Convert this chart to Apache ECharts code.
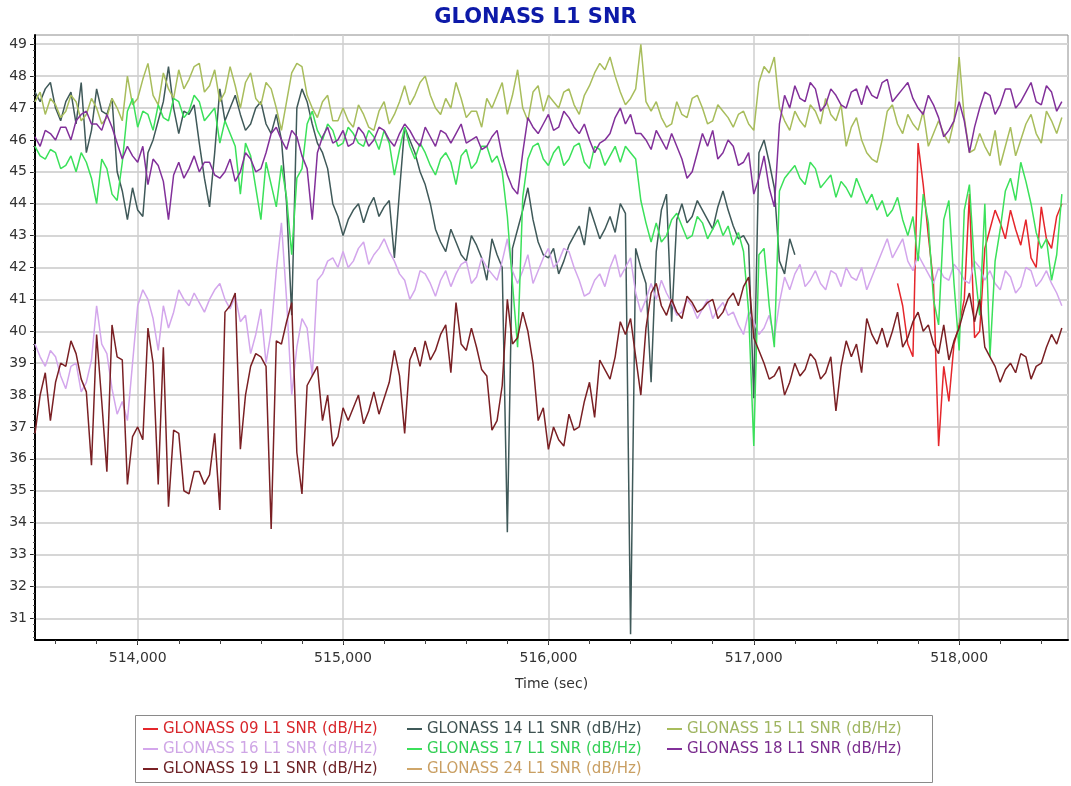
<!DOCTYPE html>
<html>
<head>
<meta charset="utf-8">
<title>GLONASS L1 SNR</title>
<script src="https://cdn.jsdelivr.net/npm/echarts@6/dist/echarts.min.js"></script>
<style>
  html, body { margin: 0; padding: 0; background: #fff; }
  #chart { width: 1071px; height: 786px; }
</style>
</head>
<body>
<div id="chart"></div>
<script>
// sample times (sec), every 25 s, one row per 500 s
const times = [
  513500, 513525, 513550, 513575, 513600, 513625, 513650, 513675, 513700, 513725, 513750, 513775, 513800, 513825, 513850, 513875, 513900, 513925, 513950, 513975,
  514000, 514025, 514050, 514075, 514100, 514125, 514150, 514175, 514200, 514225, 514250, 514275, 514300, 514325, 514350, 514375, 514400, 514425, 514450, 514475,
  514500, 514525, 514550, 514575, 514600, 514625, 514650, 514675, 514700, 514725, 514750, 514775, 514800, 514825, 514850, 514875, 514900, 514925, 514950, 514975,
  515000, 515025, 515050, 515075, 515100, 515125, 515150, 515175, 515200, 515225, 515250, 515275, 515300, 515325, 515350, 515375, 515400, 515425, 515450, 515475,
  515500, 515525, 515550, 515575, 515600, 515625, 515650, 515675, 515700, 515725, 515750, 515775, 515800, 515825, 515850, 515875, 515900, 515925, 515950, 515975,
  516000, 516025, 516050, 516075, 516100, 516125, 516150, 516175, 516200, 516225, 516250, 516275, 516300, 516325, 516350, 516375, 516400, 516425, 516450, 516475,
  516500, 516525, 516550, 516575, 516600, 516625, 516650, 516675, 516700, 516725, 516750, 516775, 516800, 516825, 516850, 516875, 516900, 516925, 516950, 516975,
  517000, 517025, 517050, 517075, 517100, 517125, 517150, 517175, 517200, 517225, 517250, 517275, 517300, 517325, 517350, 517375, 517400, 517425, 517450, 517475,
  517500, 517525, 517550, 517575, 517600, 517625, 517650, 517675, 517700, 517725, 517750, 517775, 517800, 517825, 517850, 517875, 517900, 517925, 517950, 517975,
  518000, 518025, 518050, 518075, 518100, 518125, 518150, 518175, 518200, 518225, 518250, 518275, 518300, 518325, 518350, 518375, 518400, 518425, 518450, 518475,
  518500
];

// GLONASS 09 only shows up near the end
const times09 = [
  517700, 517725, 517750, 517775, 517800, 517825, 517850, 517875, 517900, 517925, 517950, 517975,
  518000, 518025, 518050, 518075, 518100, 518125, 518150, 518175, 518200, 518225, 518250, 518275,
  518300, 518325, 518350, 518375, 518400, 518425, 518450, 518475, 518500
];
const snr09 = [
  41.5, 40.8, 39.6, 39.2, 45.9, 44.6, 43.0, 41.5, 36.4, 38.9, 37.8, 39.6,
  40.2, 41.0, 44.3, 39.8, 40.0, 42.6, 43.2, 43.8, 43.4, 42.9, 43.8, 43.2,
  42.7, 43.5, 42.3, 42.0, 43.9, 42.9, 42.6, 43.6, 44.0
];

// GLONASS 14 drops out around 517,200
const snr14 = [
  47.5, 47.2, 47.6, 47.8, 47.0, 46.6, 47.2, 47.5, 46.5, 47.8, 45.6, 46.3, 47.6, 46.9, 46.8, 47.3, 45.0, 44.4, 43.5, 44.5,
  43.8, 43.6, 45.6, 46.0, 46.6, 47.2, 48.3, 47.0, 46.2, 46.9, 46.8, 47.1, 45.9, 44.8, 43.9, 45.6, 47.6, 46.6, 47.0, 47.4,
  46.8, 46.3, 46.5, 47.0, 47.2, 46.5, 46.2, 46.8, 46.0, 44.0, 40.5, 47.0, 47.6, 47.2, 46.5, 45.9, 45.6, 45.1, 44.0, 43.6,
  43.0, 43.5, 43.8, 44.0, 43.4, 43.9, 44.2, 43.6, 43.9, 44.1, 42.3, 44.4, 46.4, 46.0, 45.6, 45.0, 44.6, 44.0, 43.2, 42.8,
  42.5, 43.2, 42.8, 42.4, 42.2, 43.0, 42.7, 42.3, 41.6, 42.9, 42.4, 42.0, 33.7, 42.6, 43.2, 43.8, 44.5, 43.5, 42.8, 42.4,
  42.3, 42.6, 41.8, 42.2, 42.7, 43.0, 43.3, 42.7, 43.9, 43.4, 42.9, 43.2, 43.6, 43.1, 44.0, 43.7, 30.5, 42.6, 42.0, 41.5,
  38.4, 42.5, 43.8, 44.3, 40.3, 43.5, 44.0, 43.4, 43.6, 44.1, 43.8, 43.5, 43.2, 43.9, 44.4, 43.8, 43.3, 42.9, 43.0, 42.7,
  37.9, 45.6, 46.0, 45.3, 44.5, 42.2, 41.8, 42.9, 42.4
];

const snr15 = [
  47.2, 47.5, 46.8, 47.3, 47.1, 46.7, 46.9, 47.4, 47.2, 46.6, 46.8, 47.3, 47.0, 46.5, 46.7, 47.3, 47.0, 46.6, 48.0, 47.1,
  47.3, 47.9, 48.4, 47.4, 47.1, 48.1, 47.6, 47.3, 48.2, 47.6, 47.9, 48.3, 48.4, 47.5, 47.7, 48.2, 47.2, 47.5, 48.3, 47.7,
  47.0, 47.8, 48.1, 47.3, 47.1, 47.8, 47.6, 47.0, 46.3, 47.2, 48.1, 48.4, 48.3, 47.4, 47.0, 46.7, 47.2, 47.4, 46.6, 46.6,
  47.0, 46.6, 46.4, 47.1, 46.8, 46.4, 46.3, 46.9, 47.2, 46.5, 46.8, 47.2, 47.7, 47.1, 47.4, 47.8, 48.0, 47.4, 47.0, 46.8,
  47.3, 47.0, 47.8, 47.3, 46.7, 46.9, 46.9, 46.4, 47.3, 47.0, 47.4, 47.8, 46.8, 47.4, 48.2, 47.0, 46.6, 47.5, 47.7, 46.9,
  47.4, 47.2, 47.0, 47.5, 47.6, 47.1, 46.8, 47.4, 47.7, 48.1, 48.4, 48.2, 48.6, 48.0, 47.5, 47.1, 47.3, 47.6, 49.0, 47.2,
  46.9, 47.2, 46.7, 46.4, 46.5, 47.2, 46.8, 46.7, 47.3, 47.4, 47.0, 46.5, 46.6, 47.1, 46.9, 46.7, 46.4, 46.8, 46.9, 46.5,
  46.3, 47.8, 48.3, 48.1, 48.6, 47.0, 46.6, 46.3, 46.9, 46.6, 46.4, 47.1, 46.9, 46.5, 47.3, 46.8, 46.6, 47.1, 45.8, 46.4,
  46.7, 46.0, 45.6, 45.4, 45.3, 46.0, 46.9, 47.1, 46.5, 46.2, 46.8, 46.5, 46.3, 46.9, 45.8, 46.2, 46.6, 46.2, 45.9, 46.6,
  48.6, 46.7, 45.6, 45.7, 46.2, 45.8, 45.5, 46.3, 45.2, 45.8, 46.4, 45.5, 46.0, 46.5, 46.8, 46.2, 45.9, 46.9, 46.6, 46.2,
  46.7
];

const snr16 = [
  39.6, 39.2, 38.9, 39.4, 39.2, 38.6, 38.2, 38.9, 39.0, 38.1, 38.4, 39.1, 40.8, 39.6, 39.3, 38.2, 37.4, 37.8, 37.2, 39.0,
  40.8, 41.3, 41.0, 40.4, 39.4, 40.8, 40.1, 40.6, 41.3, 41.0, 40.8, 41.2, 40.9, 40.6, 41.0, 41.3, 41.5, 41.0, 40.7, 41.1,
  40.3, 40.5, 39.3, 39.9, 40.7, 39.0, 40.0, 41.9, 43.4, 41.0, 38.0, 39.5, 40.4, 40.1, 38.6, 41.6, 41.8, 42.2, 42.3, 42.0,
  42.5, 42.0, 42.2, 42.6, 42.8, 42.1, 42.4, 42.6, 42.9, 42.5, 42.2, 41.8, 41.6, 41.0, 41.3, 41.9, 41.8, 41.5, 41.1, 41.6,
  41.9, 41.4, 41.8, 42.1, 42.2, 41.5, 41.7, 42.3, 42.0, 41.8, 41.6, 42.2, 42.9, 41.9, 41.5, 41.9, 42.4, 41.5, 41.9, 42.3,
  42.6, 42.0, 42.2, 42.6, 42.5, 42.0, 41.6, 41.1, 41.2, 41.6, 41.8, 41.4, 42.0, 42.4, 41.7, 42.0, 42.3, 41.2, 40.6, 41.0,
  41.5, 41.0, 41.6, 41.2, 40.9, 40.5, 40.6, 41.0, 40.8, 40.4, 40.7, 41.0, 40.4, 40.7, 40.9, 40.5, 40.6, 40.2, 39.9, 40.6,
  40.3, 39.9, 40.1, 40.5, 39.8, 40.9, 41.7, 41.3, 41.8, 42.1, 41.4, 41.6, 41.9, 41.5, 41.3, 41.9, 41.8, 41.4, 42.0, 41.7,
  41.6, 42.0, 41.3, 41.7, 42.1, 42.5, 42.9, 42.3, 42.6, 42.9, 42.2, 41.9, 42.4, 42.1, 41.8, 41.5, 42.0, 41.7, 41.6, 42.1,
  41.9, 41.6, 41.5, 42.2, 42.0, 41.6, 41.9, 41.5, 41.3, 41.9, 41.7, 41.2, 41.4, 42.0, 41.9, 41.4, 41.6, 41.9, 41.5, 41.2,
  40.8
];

const snr17 = [
  45.8, 45.5, 45.4, 45.7, 45.6, 45.1, 45.2, 45.5, 45.0, 45.6, 45.3, 44.8, 44.0, 45.4, 45.1, 44.3, 44.1, 45.3, 46.9, 47.3,
  46.4, 46.9, 46.8, 46.3, 47.1, 46.7, 46.6, 47.3, 47.2, 46.7, 46.9, 47.4, 47.2, 46.6, 46.8, 47.0, 45.9, 46.6, 46.2, 45.8,
  44.3, 45.9, 45.5, 44.5, 43.5, 45.3, 44.6, 43.9, 45.2, 44.2, 42.4, 44.8, 45.1, 46.5, 46.9, 46.3, 46.0, 46.5, 46.3, 45.8,
  45.9, 46.4, 46.2, 45.9, 45.8, 46.3, 46.1, 45.7, 46.3, 45.9, 44.9, 45.7, 46.4, 45.8, 45.4, 45.9, 45.6, 45.2, 44.9, 45.4,
  45.6, 45.3, 44.6, 45.5, 45.7, 45.1, 45.3, 45.8, 45.8, 45.3, 45.5, 45.0, 43.6, 41.5, 39.5, 44.2, 45.4, 45.8, 45.9, 45.4,
  45.2, 45.6, 45.8, 45.2, 45.4, 45.8, 45.9, 45.3, 45.1, 45.8, 45.7, 45.2, 45.5, 45.8, 45.3, 45.8, 45.6, 45.4, 44.1, 43.4,
  42.8, 43.4, 42.8, 43.0, 43.5, 43.7, 43.3, 42.9, 43.0, 43.6, 43.4, 42.9, 43.2, 43.5, 43.0, 43.3, 42.7, 43.1, 42.5, 40.6,
  36.4, 42.4, 42.6, 40.8, 39.5, 44.4, 44.8, 45.0, 45.2, 44.8, 44.6, 45.3, 45.1, 44.5, 44.7, 44.9, 44.2, 44.7, 44.5, 44.2,
  44.8, 44.4, 44.0, 44.3, 43.8, 44.1, 43.6, 43.8, 44.2, 43.5, 43.0, 43.6, 42.2, 44.3, 43.4, 41.0, 40.2, 43.5, 44.1, 41.5,
  39.4, 43.8, 44.6, 42.0, 40.5, 44.0, 39.2, 42.2, 43.2, 44.4, 44.8, 44.1, 45.3, 44.7, 44.0, 43.1, 42.6, 42.9, 41.6, 42.4,
  44.3
];

const snr18 = [
  46.1, 45.8, 46.3, 46.2, 46.0, 46.4, 46.4, 46.0, 46.6, 46.8, 46.9, 46.5, 46.5, 46.3, 46.8, 46.4, 45.9, 45.4, 45.8, 45.5,
  45.3, 45.8, 44.6, 45.4, 45.2, 44.7, 43.5, 44.9, 45.3, 44.8, 45.1, 45.5, 45.0, 45.3, 45.3, 44.9, 44.8, 45.0, 45.4, 44.7,
  45.0, 45.6, 45.4, 45.0, 45.1, 45.6, 46.2, 46.4, 46.0, 45.7, 46.3, 46.1, 45.5, 45.1, 43.5, 45.6, 46.1, 46.4, 45.9, 46.0,
  46.3, 45.8, 45.9, 46.4, 46.2, 45.8, 46.0, 46.4, 46.3, 46.0, 45.8, 46.2, 46.5, 46.3, 46.0, 45.8, 46.4, 46.1, 45.8, 46.3,
  46.2, 45.9, 46.2, 46.5, 45.9, 46.0, 46.1, 45.7, 45.8, 46.1, 46.3, 45.5, 44.9, 44.5, 44.3, 45.6, 46.7, 46.4, 46.2, 46.5,
  46.8, 46.3, 46.4, 46.9, 46.7, 46.4, 46.2, 46.5, 46.0, 45.6, 45.9, 46.0, 46.2, 46.7, 47.0, 46.5, 46.8, 46.2, 46.2, 46.0,
  45.7, 46.3, 46.0, 45.7, 46.2, 45.8, 45.4, 44.8, 45.0, 45.6, 46.2, 45.8, 46.3, 45.4, 45.6, 46.0, 45.8, 45.2, 45.3, 45.6,
  44.3, 44.8, 45.5, 44.5, 43.9, 46.5, 47.4, 47.0, 47.7, 47.3, 47.2, 47.8, 47.6, 46.9, 47.1, 47.6, 47.4, 47.1, 47.0, 47.5,
  47.6, 47.1, 47.7, 47.4, 47.3, 47.8, 47.9, 47.2, 47.4, 47.6, 47.8, 47.3, 47.0, 46.8, 47.4, 47.1, 46.7, 46.1, 46.3, 46.6,
  47.2, 46.6, 45.6, 46.4, 47.0, 47.5, 47.4, 46.8, 47.1, 47.6, 47.6, 47.0, 47.2, 47.5, 47.8, 47.2, 47.1, 47.7, 47.5, 46.9,
  47.2
];

const snr19 = [
  36.8, 38.0, 38.7, 37.2, 38.4, 39.0, 38.9, 39.7, 39.3, 38.5, 38.1, 35.8, 39.9, 37.8, 35.6, 40.2, 39.2, 39.1, 35.2, 36.7,
  37.0, 36.6, 40.1, 39.0, 35.2, 39.5, 34.5, 36.9, 36.8, 35.0, 34.9, 35.6, 35.6, 35.2, 35.5, 36.8, 34.4, 40.6, 40.8, 41.2,
  36.3, 38.0, 38.9, 39.3, 39.2, 38.9, 33.8, 39.7, 39.6, 40.3, 40.9, 36.2, 34.9, 38.3, 38.6, 38.9, 37.2, 38.0, 36.4, 36.7,
  37.6, 37.2, 37.6, 38.0, 37.1, 37.5, 38.1, 37.4, 37.9, 38.4, 39.4, 38.6, 36.8, 39.1, 39.5, 38.9, 39.7, 39.1, 39.4, 39.9,
  40.2, 38.7, 40.9, 39.6, 39.4, 40.1, 39.5, 38.8, 38.6, 36.9, 37.2, 38.3, 41.0, 39.6, 39.8, 40.6, 40.0, 39.0, 37.2, 37.6,
  36.3, 37.0, 36.6, 36.4, 37.4, 36.9, 37.0, 37.8, 38.4, 37.3, 39.1, 38.8, 38.5, 39.2, 40.3, 39.9, 40.4, 39.2, 38.0, 40.1,
  41.2, 41.5, 40.8, 40.5, 41.0, 40.6, 40.4, 41.1, 40.9, 40.6, 40.7, 40.9, 41.0, 40.4, 40.6, 41.0, 41.2, 40.8, 41.4, 41.7,
  39.8, 39.4, 39.0, 38.5, 38.6, 38.9, 38.0, 38.4, 39.0, 38.6, 38.8, 39.3, 39.1, 38.5, 38.7, 39.2, 37.5, 38.9, 39.7, 39.2,
  39.6, 38.7, 40.4, 39.9, 39.6, 40.1, 39.5, 40.0, 40.6, 39.5, 39.8, 40.3, 40.6, 40.0, 40.2, 39.6, 39.3, 40.2, 39.1, 39.7,
  40.1, 40.7, 41.2, 40.3, 41.0, 39.5, 39.2, 38.9, 38.4, 38.8, 39.0, 38.7, 39.3, 39.2, 38.5, 38.9, 39.0, 39.5, 39.9, 39.6,
  40.1
];

// GLONASS 24 is listed in the legend but draws nothing
const snr24 = [];

const xLabelTicks = [514000, 515000, 516000, 517000, 518000];
const yLabelTicks = [31, 32, 33, 34, 35, 36, 37, 38, 39, 40, 41, 42, 43, 44, 45, 46, 47, 48, 49];

const X_MIN = 513500, X_MAX = 518530;
const Y_MIN = 30.32, Y_MAX = 49.29;

// minor ticks: every 200 s on x, every 0.2 on y
const xMinorTicks = [];
for (let t = 513600; t <= 518400; t += 200) xMinorTicks.push(t);
const yMinorTicks = [];
for (let v = 304; v <= 492; v += 2) yMinorTicks.push(v / 10);

const pairs = (xs, ys) => ys.map((v, i) => [xs[i], v]);

const lines = [
  { name: 'GLONASS 09 L1 SNR (dB/Hz)', color: '#e5262b', text: '#d8262b', data: pairs(times09, snr09) },
  { name: 'GLONASS 14 L1 SNR (dB/Hz)', color: '#3f5959', text: '#3f5252', data: pairs(times, snr14) },
  { name: 'GLONASS 15 L1 SNR (dB/Hz)', color: '#a8bd5c', text: '#9fb561', data: pairs(times, snr15) },
  { name: 'GLONASS 16 L1 SNR (dB/Hz)', color: '#d3a6ec', text: '#cfa6e6', data: pairs(times, snr16) },
  { name: 'GLONASS 17 L1 SNR (dB/Hz)', color: '#3be15a', text: '#33cf55', data: pairs(times, snr17) },
  { name: 'GLONASS 18 L1 SNR (dB/Hz)', color: '#82309a', text: '#7a2c8e', data: pairs(times, snr18) },
  { name: 'GLONASS 19 L1 SNR (dB/Hz)', color: '#7a2024', text: '#6e2226', data: pairs(times, snr19) },
  { name: 'GLONASS 24 L1 SNR (dB/Hz)', color: '#cfa66a', text: '#c99f63', data: pairs(times, snr24) }
];

const font = 'DejaVu Sans, Verdana, sans-serif';

function legendColumn(left, idx) {
  return {
    orient: 'vertical',
    left: left,
    top: 721,
    padding: 0,
    itemGap: 4,
    itemWidth: 15,
    itemHeight: 2,
    icon: 'rect',
    selectedMode: false,
    textStyle: { fontFamily: font, fontSize: 15, lineHeight: 16 },
    data: idx.map(i => ({ name: lines[i].name, textStyle: { color: lines[i].text } }))
  };
}

const chart = echarts.init(document.getElementById('chart'));

chart.setOption({
  animation: false,
  backgroundColor: '#fff',
  title: {
    text: 'GLONASS L1 SNR',
    left: 'center',
    top: 2,
    textStyle: { fontFamily: font, fontSize: 21, fontWeight: 'bold', color: '#0d1aa8' }
  },
  legend: [
    legendColumn(143, [0, 3, 6]),
    legendColumn(407, [1, 4, 7]),
    legendColumn(667, [2, 5])
  ],
  graphic: [{
    type: 'rect',
    shape: { x: 135.5, y: 715.5, width: 797, height: 67 },
    style: { fill: 'none', stroke: '#8a8a8a', lineWidth: 1 },
    silent: true
  }],
  grid: {
    left: 35, right: 3, top: 35, bottom: 146,
    show: true, borderColor: '#8c8c8c', borderWidth: 1,
    outerBoundsMode: 'none'
  },
  xAxis: [{
    type: 'value',
    min: X_MIN, max: X_MAX,
    name: 'Time (sec)',
    nameLocation: 'middle',
    nameGap: 37,
    nameTextStyle: { fontFamily: font, fontSize: 14, color: '#333' },
    axisLine: { show: true, onZero: false, lineStyle: { color: '#000', width: 2 } },
    axisTick: { show: true, customValues: xLabelTicks, length: 5, lineStyle: { color: '#222' } },
    axisLabel: {
      customValues: xLabelTicks, margin: 11,
      fontFamily: font, fontSize: 14, color: '#333',
      formatter: v => v.toLocaleString('en-US')
    },
    splitLine: { show: true, lineStyle: { color: '#cfcfcf', width: 1.5 } }
  }, {
    type: 'value',
    position: 'bottom',
    min: X_MIN, max: X_MAX,
    axisLine: { show: false },
    axisTick: { show: true, customValues: xMinorTicks, length: 4, lineStyle: { color: '#444' } },
    axisLabel: { show: false },
    splitLine: { show: false }
  }],
  yAxis: [{
    type: 'value',
    min: Y_MIN, max: Y_MAX,
    axisLine: { show: true, onZero: false, lineStyle: { color: '#000', width: 2 } },
    axisTick: { show: true, customValues: yLabelTicks, length: 5, lineStyle: { color: '#222' } },
    axisLabel: { customValues: yLabelTicks, margin: 8, fontFamily: font, fontSize: 14, color: '#333' },
    splitLine: { show: true, lineStyle: { color: '#d6d6d6', width: 2 } }
  }, {
    type: 'value',
    position: 'left',
    min: Y_MIN, max: Y_MAX,
    axisLine: { show: false },
    axisTick: { show: true, customValues: yMinorTicks, length: 2, lineStyle: { color: '#555' } },
    axisLabel: { show: false },
    splitLine: { show: false }
  }],
  series: lines.map(s => ({
    name: s.name,
    type: 'line',
    xAxisIndex: 0,
    yAxisIndex: 0,
    data: s.data,
    showSymbol: false,
    symbol: 'none',
    connectNulls: false,
    color: s.color,
    lineStyle: { color: s.color, width: 1.5 }
  }))
});
</script>
</body>
</html>
